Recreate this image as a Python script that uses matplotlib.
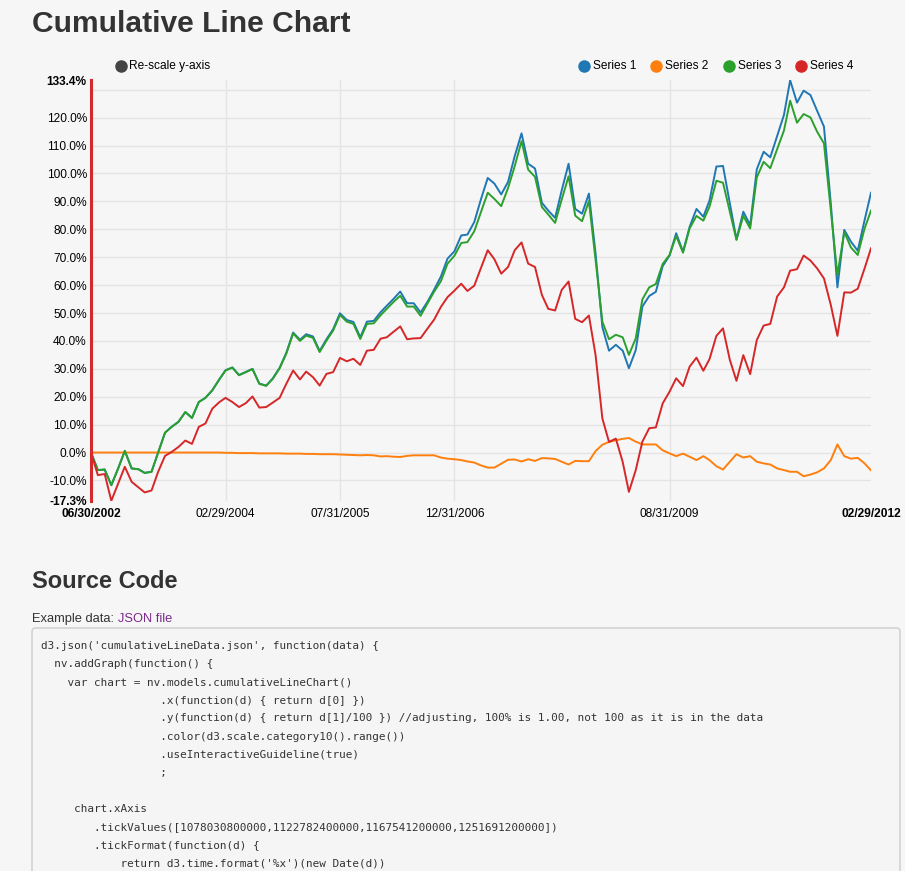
import matplotlib
matplotlib.use('Agg')
import matplotlib.pyplot as plt
import numpy as np
import pandas as pd
from matplotlib.patches import FancyBboxPatch
from matplotlib.lines import Line2D

plt.rcParams['font.family'] = ['Liberation Sans', 'DejaVu Sans']

# ---------------- data (percent) ----------------
try:
    dates = pd.date_range('2002-06-30', '2012-02-29', freq='ME')
except Exception:
    dates = pd.date_range('2002-06-30', '2012-02-29', freq='M')

series_names = ['Series 1', 'Series 2', 'Series 3', 'Series 4']
series_colors = ['#1f77b4', '#ff7f0e', '#2ca02c', '#d62728']

series1 = [0.0, -6.3, -6.1, -11.7, -5.7, 0.6, -5.7, -6.0, -7.3, -6.9,
           0.0, 7.1, 9.2, 11.0, 14.5, 12.4, 18.1, 19.6, 22.3, 26.1,
           29.5, 30.5, 27.8, 28.9, 30.0, 24.7, 24.0, 26.6, 30.4, 35.7,
           43.0, 40.4, 42.4, 41.6, 36.4, 40.6, 44.2, 49.9, 47.5, 46.8,
           41.3, 46.9, 47.2, 50.3, 52.6, 55.1, 57.7, 53.5, 53.5, 50.2,
           54.0, 58.3, 63.1, 69.5, 72.1, 77.8, 78.1, 82.6, 90.7, 98.4,
           96.4, 92.5, 97.0, 106.2, 114.4, 103.5, 101.8, 89.5, 86.7, 84.1,
           94.0, 103.5, 87.3, 85.6, 92.8, 71.5, 44.9, 36.5, 38.6, 36.5,
           30.2, 36.7, 52.3, 56.1, 57.6, 66.8, 70.6, 78.6, 72.0, 80.9,
           87.3, 84.5, 90.3, 102.5, 102.7, 89.3, 76.4, 86.3, 81.5, 101.5,
           107.8, 105.8, 113.4, 121.0, 133.4, 125.4, 129.7, 128.1, 122.5, 116.8,
           89.3, 59.2, 79.8, 75.6, 72.3, 83.3, 93.1]

series2 = [0.0, 0.0, 0.0, 0.0, 0.0, 0.0, 0.0, 0.0, 0.0, 0.0,
           0.0, 0.0, 0.0, 0.0, 0.0, 0.0, 0.0, 0.0, 0.0, 0.0,
           -0.1, -0.1, -0.2, -0.2, -0.2, -0.3, -0.3, -0.3, -0.3, -0.4,
           -0.4, -0.4, -0.5, -0.5, -0.6, -0.6, -0.6, -0.7, -0.8, -0.9,
           -1.0, -0.9, -1.0, -1.4, -1.3, -1.5, -1.6, -1.2, -1.0, -1.0,
           -1.0, -1.0, -1.8, -2.2, -2.4, -2.7, -3.2, -3.6, -4.6, -5.4,
           -5.4, -4.0, -2.6, -2.5, -3.2, -2.4, -3.0, -2.0, -2.1, -2.3,
           -3.3, -4.3, -3.0, -3.1, -3.1, 0.5, 2.8, 3.8, 4.4, 4.9,
           5.2, 3.9, 2.9, 2.9, 2.9, 0.8, -0.3, -1.3, -0.4, -1.5,
           -2.7, -1.3, -2.7, -4.9, -6.1, -3.3, -0.6, -1.8, -1.3, -3.3,
           -3.9, -4.3, -5.7, -6.3, -6.9, -6.9, -8.5, -7.9, -7.1, -5.7,
           -2.7, 2.9, -1.3, -2.2, -1.9, -3.9, -6.4]

series3 = [0.0, -6.3, -6.1, -11.7, -5.7, 0.6, -5.7, -6.0, -7.3, -6.9,
           0.0, 7.1, 9.2, 11.0, 14.5, 12.4, 18.1, 19.6, 22.3, 26.1,
           29.4, 30.4, 27.7, 28.8, 29.9, 24.6, 23.9, 26.4, 30.2, 35.4,
           42.7, 40.0, 41.9, 41.1, 36.0, 40.1, 43.7, 49.3, 46.9, 46.1,
           40.7, 46.1, 46.3, 49.2, 51.5, 54.0, 56.2, 52.3, 52.3, 49.0,
           53.4, 57.6, 61.4, 67.7, 70.5, 75.1, 75.4, 79.3, 86.1, 93.1,
           90.9, 88.3, 94.8, 102.6, 111.6, 101.4, 98.8, 88.0, 85.3, 82.3,
           90.7, 99.0, 84.9, 82.9, 90.1, 69.1, 46.9, 40.6, 42.2, 41.3,
           35.0, 40.9, 54.9, 59.2, 60.4, 67.6, 70.8, 77.6, 71.6, 80.3,
           84.8, 83.1, 88.1, 97.4, 96.7, 86.3, 76.2, 84.8, 80.3, 98.6,
           104.2, 101.9, 108.7, 115.4, 126.1, 118.2, 121.3, 120.1, 115.0, 110.8,
           86.9, 63.6, 79.1, 73.5, 70.8, 80.3, 86.7]

series4 = [0.0, -8.1, -7.7, -17.3, -11.1, -5.1, -10.5, -12.5, -14.3, -13.6,
           -6.9, -1.2, 0.2, 2.0, 4.3, 3.1, 9.2, 10.4, 15.7, 18.0,
           19.6, 18.1, 16.3, 17.7, 20.1, 16.1, 16.3, 17.9, 19.6, 24.6,
           29.4, 26.2, 29.0, 27.0, 24.0, 28.2, 28.8, 33.9, 32.7, 33.6,
           31.4, 36.5, 36.8, 40.8, 41.3, 43.3, 45.2, 40.6, 40.9, 41.0,
           44.4, 47.6, 52.2, 55.7, 58.0, 60.5, 57.9, 59.8, 66.1, 72.5,
           69.3, 64.1, 66.5, 72.5, 75.3, 67.7, 66.5, 56.5, 51.5, 50.9,
           58.3, 61.3, 47.9, 46.7, 49.1, 35.0, 12.2, 3.8, 5.0, -3.4,
           -14.1, -6.3, 3.9, 8.7, 9.0, 17.6, 21.8, 26.6, 23.8, 30.8,
           34.0, 29.3, 33.5, 41.8, 44.5, 33.2, 25.7, 34.9, 28.1, 40.3,
           45.5, 46.1, 55.9, 59.2, 65.2, 65.7, 70.6, 68.8, 66.0, 62.4,
           52.9, 41.8, 57.4, 57.3, 58.7, 66.0, 73.2]

all_series = [series1, series2, series3, series4]

y_min, y_max = -17.3, 133.4
y_major = list(range(-10, 131, 10))
x_major_dates = ['2004-02-29', '2005-07-31', '2006-12-31', '2009-08-31']

code_lines = [
    "d3.json('cumulativeLineData.json', function(data) {",
    "  nv.addGraph(function() {",
    "    var chart = nv.models.cumulativeLineChart()",
    "                  .x(function(d) { return d[0] })",
    "                  .y(function(d) { return d[1]/100 }) //adjusting, 100% is 1.00, not 100 as it is in the data",
    "                  .color(d3.scale.category10().range())",
    "                  .useInteractiveGuideline(true)",
    "                  ;",
    "",
    "     chart.xAxis",
    "        .tickValues([1078030800000,1122782400000,1167541200000,1251691200000])",
    "        .tickFormat(function(d) {",
    "            return d3.time.format('%x')(new Date(d))",
]

# ---------------- figure ----------------
W, H = 905, 871
fig = plt.figure(figsize=(W / 100, H / 100), dpi=100)
fig.patch.set_facecolor('#f6f6f6')


def fx(px):
    return px / W


def fy(py):
    return 1 - py / H


TXT = '#333333'
FS = 8.6

# title
fig.text(fx(32), fy(31.7), 'Cumulative Line Chart', fontsize=21.6,
         weight='bold', color=TXT, va='baseline', ha='left')

# chart axes
top_px, bot_px, left_px, right_px = 80.3, 500.8, 91, 871
ax = fig.add_axes([fx(left_px), fy(bot_px), (right_px - left_px) / W,
                   (bot_px - top_px) / H])
ax.set_facecolor('none')

for vals, col in zip(all_series, series_colors):
    ax.plot(dates, vals, color=col, lw=1.4, solid_joinstyle='round', zorder=3)

ax.set_xlim(dates[0], dates[-1])
ax.set_ylim(y_min, y_max)

# y ticks
ax.set_yticks(y_major)
ax.set_yticklabels(['' if v == 130 else f'{v:.1f}%' for v in y_major])
ax.set_yticks([y_min, y_max], [f'{y_min:.1f}%', f'{y_max:.1f}%'], minor=True)
for lab in ax.get_yticklabels(minor=True):
    lab.set_fontweight('bold')

# x ticks
xm = pd.to_datetime(x_major_dates)
ax.set_xticks(xm)
ax.set_xticklabels([d.strftime('%m/%d/%Y') for d in xm])
ax.set_xticks([dates[0], dates[-1]],
              [dates[0].strftime('%m/%d/%Y'), dates[-1].strftime('%m/%d/%Y')],
              minor=True)
for lab in ax.get_xticklabels(minor=True):
    lab.set_fontweight('bold')

ax.tick_params(axis='both', which='both', length=0, labelsize=FS,
               labelcolor='#000000')
ax.tick_params(axis='y', which='both', pad=3)
ax.tick_params(axis='x', which='both', pad=5)

ax.grid(True, which='major', color='#e4e4e4', lw=1.0, zorder=0)
ax.grid(False, which='minor')
for s in ax.spines.values():
    s.set_visible(False)

# index line
ax.axvline(dates[0], color='#d42a2a', lw=2.2, clip_on=False, zorder=4)

# legend (top)
fig.add_artist(Line2D([fx(120.7)], [fy(66)], marker='o', ms=8, color='#444444',
                      transform=fig.transFigure, lw=0))
fig.text(fx(129.3), fy(66), 'Re-scale y-axis', fontsize=FS, color='#000000',
         va='center', ha='left')

leg_circle_x = [583.5, 656, 729, 801]
for name, col, cxp in zip(series_names, series_colors, leg_circle_x):
    fig.add_artist(Line2D([fx(cxp)], [fy(66)], marker='o', ms=8, color=col,
                          transform=fig.transFigure, lw=0))
    fig.text(fx(cxp + 9), fy(66), name, fontsize=FS, color='#000000',
             va='center', ha='left')

# Source code section
fig.text(fx(32), fy(588), 'Source Code', fontsize=17, weight='bold',
         color=TXT, va='baseline', ha='left')
fig.text(fx(32), fy(622), 'Example data:', fontsize=9.3, color=TXT,
         va='baseline', ha='left')
fig.text(fx(118.3), fy(622), 'JSON file', fontsize=9.3, color='#7b2a8c',
         va='baseline', ha='left')

box = FancyBboxPatch((fx(32), fy(900)), fx(900) - fx(32), fy(628) - fy(900),
                     boxstyle='round,pad=0,rounding_size=0.004',
                     transform=fig.transFigure, facecolor='#f5f5f5',
                     edgecolor='#cccccc', lw=1.0, zorder=0)
fig.add_artist(box)

for i, line in enumerate(code_lines):
    if line:
        fig.text(fx(41), fy(646 + 18.1 * i), line, fontsize=7.9,
                 family='DejaVu Sans Mono', color=TXT, va='center', ha='left')

fig.savefig('out.png', dpi=100, facecolor=fig.get_facecolor())
